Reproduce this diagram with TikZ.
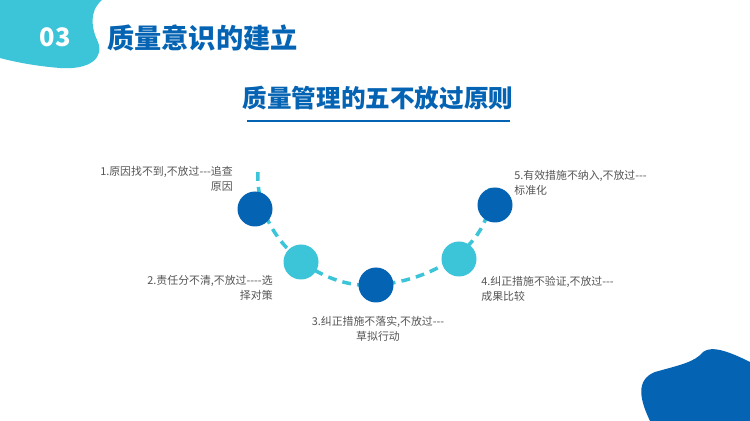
\documentclass[tikz,border=0pt]{standalone}
\usepackage{fontspec}
\setmainfont{Noto Sans CJK SC}
\definecolor{darkblue}{HTML}{0563B3}
\definecolor{lightblue}{HTML}{3CC4D8}
\definecolor{labelgray}{HTML}{555555}
\newcommand{\dsh}{{-}}
\begin{document}
\begin{tikzpicture}[x=0.02cm, y=-0.02cm,
    dot/.style={circle, minimum size=0.7cm, inner sep=0pt},
    lbl/.style={font=\fontsize{6.2}{8.6}\selectfont, text=labelgray, inner sep=0pt}]

        % Background and blobs
        \useasboundingbox (0,0) rectangle (750,421);
        \fill[white] (0,0) rectangle (750,421);
        \fill[lightblue] (0,0) -- (102,0) .. controls (88,12) and (92,30) .. (98,42)
            .. controls (104,58) and (90,70) .. (60,68) .. controls (35,66) and (15,62) .. (0,58) -- cycle;
        \fill[darkblue] (650,421) .. controls (640,400) and (635,380) .. (655,372)
            .. controls (680,365) and (695,362) .. (703,352) .. controls (712,345) and (730,352) .. (750,362)
            -- (750,421) -- cycle;

        % Header
        \node[text=white, font=\bfseries\fontsize{14.5}{16}\selectfont] (num) at (55,37) {03};
        \node[text=darkblue, anchor=west, font=\bfseries\fontsize{15.5}{17}\selectfont] (head) at (101,38) {质量意识的建立};
        \node[text=darkblue, font=\bfseries\fontsize{14}{16}\selectfont] (title) at (378,98) {质量管理的五不放过原则};
        \draw[darkblue, line width=0.8pt] (247,121) -- (510,121);

        % Dashed arc
        \draw[lightblue, line width=2pt, dash pattern=on 5pt off 3.5pt]
            (258,172) .. controls (255,240) and (320,290) .. (376,285)
            .. controls (440,280) and (495,240) .. (490,188);

        % Circles
        \node[dot, fill=darkblue] (C1) at (255,209) {};
        \node[dot, fill=lightblue] (C2) at (301,262) {};
        \node[dot, fill=darkblue] (C3) at (376,285) {};
        \node[dot, fill=lightblue] (C4) at (459,259) {};
        \node[dot, fill=darkblue] (C5) at (495,205) {};

        % Labels
        \node[lbl, align=right, anchor=north east] (L1) at (233,166) {1.原因找不到,不放过\dsh\dsh\dsh 追查\\原因};
        \node[lbl, align=right, anchor=north east] (L2) at (273,275) {2.责任分不清,不放过\dsh\dsh\dsh\dsh 选\\择对策};
        \node[lbl, align=center, anchor=north] (L3) at (378,316) {3.纠正措施不落实,不放过\dsh\dsh\dsh\\草拟行动};
        \node[lbl, align=left, anchor=north west] (L4) at (481,276) {4.纠正措施不验证,不放过\dsh\dsh\dsh\\成果比较};
        \node[lbl, align=left, anchor=north west] (L5) at (514,170) {5.有效措施不纳入,不放过\dsh\dsh\dsh\\标准化};

    \end{tikzpicture}
\end{document}
